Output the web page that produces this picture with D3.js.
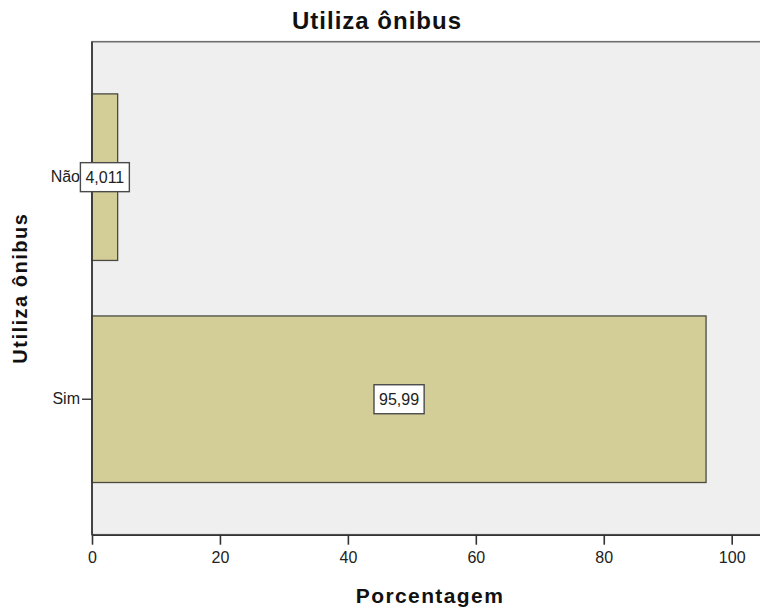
<!DOCTYPE html>
<html>
<head>
<meta charset="utf-8">
<script src="https://cdn.jsdelivr.net/npm/d3@7"></script>
<style>
  html, body { margin: 0; padding: 0; background: #ffffff; }
  svg { display: block; font-family: "Liberation Sans", Arial, sans-serif; }
</style>
</head>
<body>
<svg id="chart" width="760" height="610"></svg>
<script>
// ---- data ----
const categories = ["Não", "Sim"];
const percentages = [4.011, 95.99];
const valueLabels = ["4,011", "95,99"];
const xTicks = [0, 20, 40, 60, 80, 100];
const chartTitle = "Utiliza ônibus";
const yTitle = "Utiliza ônibus";
const xTitle = "Porcentagem";

// ---- layout ----
const W = 760, H = 610;
const plotLeft = 92, plotTop = 41.7, plotBottom = 534.7, plotRight = 772;

const svg = d3.select("#chart");

const x = d3.scaleLinear().domain([0, 100]).range([plotLeft, 731.7]);
const y = d3.scaleBand().domain(categories).range([plotTop, plotBottom])
  .paddingInner(0.25).paddingOuter(0.235);

// plot background
svg.append("rect")
  .attr("x", plotLeft).attr("y", plotTop)
  .attr("width", plotRight - plotLeft).attr("height", plotBottom - plotTop)
  .attr("fill", "#efefef")
  .attr("stroke", "#6e6e6e").attr("stroke-width", 1.6);

// bars
const data = categories.map((c, i) => ({ cat: c, v: percentages[i], lab: valueLabels[i] }));
svg.append("g").selectAll("rect").data(data).join("rect")
  .attr("x", x(0))
  .attr("y", d => y(d.cat))
  .attr("width", d => x(d.v) - x(0))
  .attr("height", y.bandwidth())
  .attr("fill", "#d3ce97")
  .attr("stroke", "#4a4a42").attr("stroke-width", 1.3);

// x axis
const xAxis = svg.append("g")
  .attr("transform", `translate(0,${plotBottom})`)
  .call(d3.axisBottom(x).tickValues(xTicks).tickSize(10).tickPadding(7).tickSizeOuter(0));
xAxis.select(".domain").attr("stroke", "#333").attr("stroke-width", 1.6)
  .attr("d", `M${plotLeft},0.5H${plotRight}`);
xAxis.selectAll(".tick line").attr("stroke", "#333").attr("stroke-width", 1.6);
xAxis.selectAll(".tick text").attr("font-size", 16).attr("fill", "#222")
  .attr("font-family", "'Liberation Sans', Arial, sans-serif");

// y axis
const yAxis = svg.append("g")
  .attr("transform", `translate(${plotLeft},0)`)
  .call(d3.axisLeft(y).tickSize(10).tickPadding(2).tickSizeOuter(0));
yAxis.select(".domain").attr("stroke", "#333").attr("stroke-width", 1.6)
  .attr("d", `M0,${plotTop}V${plotBottom}`);
yAxis.selectAll(".tick line").attr("stroke", "#333").attr("stroke-width", 1.4);
yAxis.selectAll(".tick text").attr("font-size", 16).attr("fill", "#222")
  .attr("font-family", "'Liberation Sans', Arial, sans-serif");

// value labels
const lg = svg.append("g").selectAll("g").data(data).join("g")
  .attr("transform", d => `translate(${(x(0) + x(d.v)) / 2},${y(d.cat) + y.bandwidth() / 2})`);
lg.each(function(d) {
  const g = d3.select(this);
  const t = g.append("text")
    .attr("text-anchor", "middle").attr("dy", "0.36em")
    .attr("font-size", 16).attr("fill", "#222")
    .text(d.lab);
  const bb = t.node().getBBox();
  g.insert("rect", "text")
    .attr("x", bb.x - 5).attr("y", -14.5)
    .attr("width", bb.width + 10).attr("height", 29)
    .attr("fill", "#ffffff").attr("stroke", "#4a4a4a").attr("stroke-width", 1.4);
});

// titles
svg.append("text")
  .attr("x", 377).attr("y", 28.5)
  .attr("text-anchor", "middle").attr("font-size", 24).attr("font-weight", "bold")
  .attr("letter-spacing", 1).attr("fill", "#111")
  .text(chartTitle);

svg.append("text")
  .attr("x", 430).attr("y", 603)
  .attr("text-anchor", "middle").attr("font-size", 21).attr("font-weight", "bold")
  .attr("letter-spacing", 1.4).attr("fill", "#111")
  .text(xTitle);

svg.append("text")
  .attr("transform", `translate(27,${(plotTop + plotBottom) / 2}) rotate(-90)`)
  .attr("text-anchor", "middle").attr("font-size", 20).attr("font-weight", "bold")
  .attr("letter-spacing", 1.5).attr("fill", "#111")
  .text(yTitle);
</script>
</body>
</html>
